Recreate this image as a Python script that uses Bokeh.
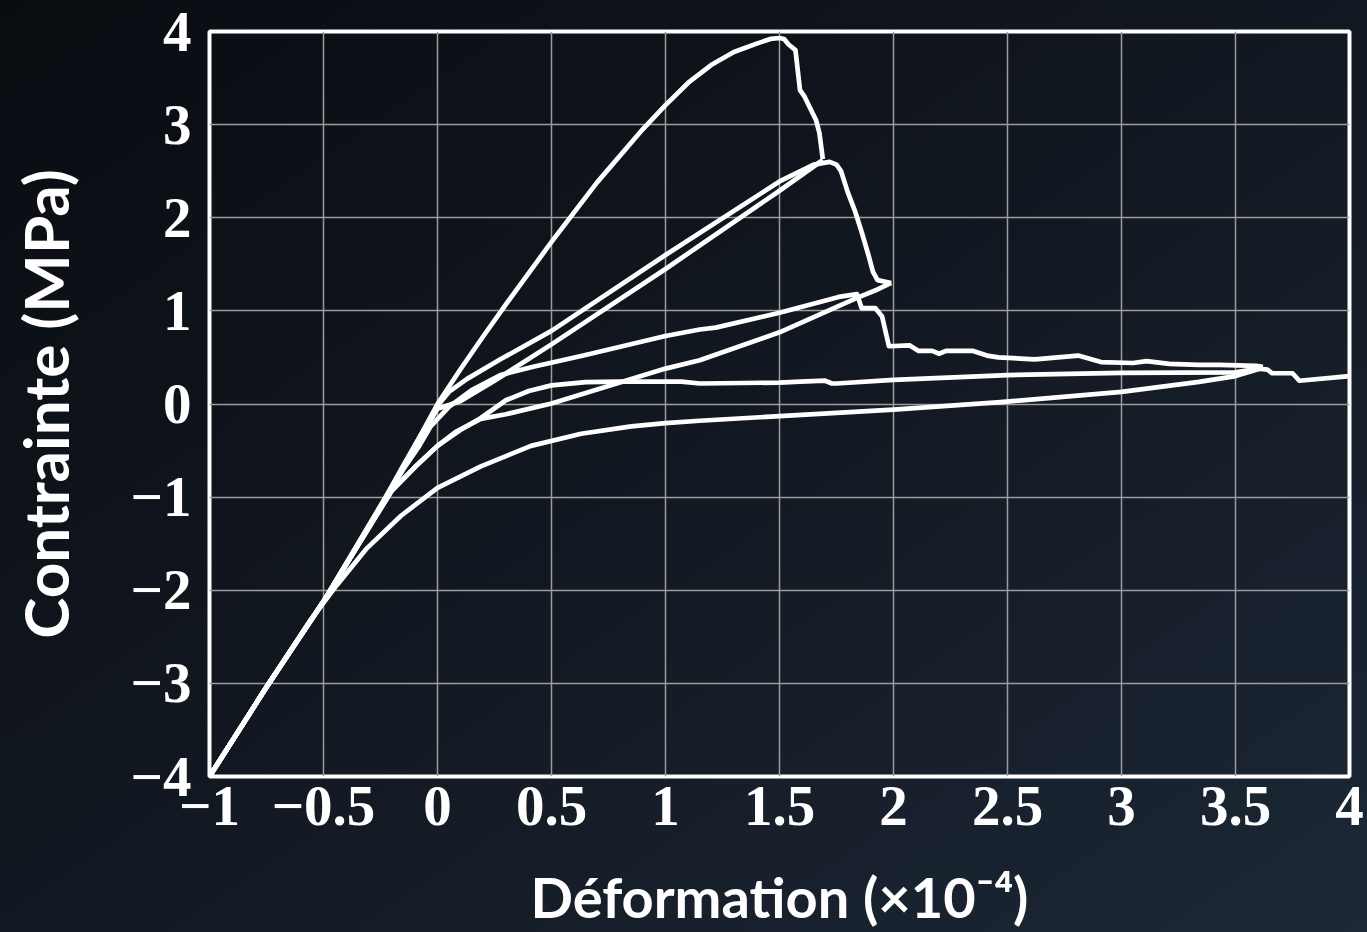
from bokeh.plotting import figure
from bokeh.models import Range1d, FixedTicker
from bokeh.embed import file_html
from bokeh.resources import INLINE

# ---------------- data (strain x1e-4, stress MPa) ----------------
load1_x = [-1.0, -0.75, -0.5, -0.3, -0.15, 0.0, 0.1, 0.2, 0.3, 0.5, 0.7, 0.9, 1.0, 1.1, 1.2, 1.3,
           1.4, 1.46, 1.5, 1.52, 1.54, 1.57, 1.59, 1.61, 1.66, 1.675, 1.69]
load1_y = [-4.0, -3.04, -2.12, -1.32, -0.68, 0.0, 0.37, 0.725, 1.07, 1.74, 2.38, 2.95, 3.21, 3.45, 3.64, 3.78,
           3.87, 3.92, 3.93, 3.92, 3.86, 3.80, 3.37, 3.30, 3.05, 2.91, 2.63]

unload1_x = [1.69, 1.5, 1.0, 0.5, 0.25, 0.1, 0.0, -0.15, -0.5, -0.75, -1.0]
unload1_y = [2.62, 2.29, 1.45, 0.64, 0.25, 0.03, -0.05, -0.68, -2.12, -3.04, -4.0]

reload2_x = [-1.0, -0.75, -0.5, -0.3, -0.15, 0.0, 0.05, 0.13, 0.276, 0.5, 1.0, 1.5, 1.65, 1.72, 1.75,
             1.77, 1.80, 1.83, 1.86, 1.89, 1.91, 1.93, 1.99]
reload2_y = [-4.0, -3.04, -2.12, -1.32, -0.66, -0.02, 0.13, 0.27, 0.48, 0.785, 1.60, 2.39, 2.57, 2.60, 2.57,
             2.50, 2.27, 2.08, 1.85, 1.60, 1.42, 1.33, 1.30]

unload2_x = [1.99, 1.93, 1.84, 1.5, 1.15, 1.0, 0.8, 0.5, 0.3, 0.19, 0.08, 0.0, -0.1, -0.2, -0.35, -0.5, -0.75, -1.0]
unload2_y = [1.30, 1.23, 1.14, 0.77, 0.47, 0.38, 0.23, 0.005, -0.11, -0.16, -0.30, -0.45, -0.68, -0.93, -1.52,
             -2.12, -3.04, -4.0]

reload3_x = [-1.0, -0.75, -0.5, -0.3, -0.15, -0.08, -0.03, 0.05, 0.15, 0.276, 0.42, 0.64, 1.0, 1.15, 1.22,
             1.5, 1.76, 1.84, 1.86, 1.92, 1.95, 1.98, 2.07, 2.11, 2.17, 2.20, 2.23, 2.35, 2.41, 2.46,
             2.62, 2.81, 2.91, 3.05, 3.11, 3.21, 3.34, 3.43, 3.59, 3.62]
reload3_y = [-4.0, -3.04, -2.12, -1.32, -0.70, -0.45, -0.24, -0.03, 0.15, 0.31, 0.40, 0.52, 0.73, 0.80, 0.82,
             0.98, 1.15, 1.18, 1.03, 1.03, 0.94, 0.62, 0.63, 0.57, 0.57, 0.54, 0.57, 0.57, 0.52, 0.50,
             0.48, 0.52, 0.45, 0.44, 0.46, 0.43, 0.42, 0.42, 0.41, 0.40]

unload3_x = [3.62, 3.61, 3.5, 3.34, 3.0, 2.47, 2.0, 1.5, 1.15, 1.0, 0.85, 0.63, 0.41, 0.19, 0.0, -0.16,
             -0.31, -0.44, -0.56, -0.75, -1.0]
unload3_y = [0.40, 0.38, 0.30, 0.237, 0.13, 0.02, -0.06, -0.13, -0.18, -0.205, -0.24, -0.32, -0.45, -0.67, -0.90,
             -1.20, -1.55, -1.94, -2.33, -3.04, -4.0]

reload4_x = [-1.0, -0.75, -0.5, -0.35, -0.2, -0.1, 0.0, 0.1, 0.19, 0.3, 0.4, 0.5, 0.65, 0.8, 1.07, 1.15,
             1.5, 1.59, 1.70, 1.73, 1.75, 2.0, 2.5, 3.0, 3.5, 3.6, 3.64, 3.66, 3.75, 3.78, 4.0]
reload4_y = [-4.0, -3.04, -2.12, -1.52, -0.93, -0.68, -0.45, -0.28, -0.15, 0.04, 0.14, 0.20, 0.235, 0.24, 0.24,
             0.22, 0.23, 0.24, 0.25, 0.22, 0.22, 0.26, 0.31, 0.335, 0.34, 0.38, 0.37, 0.33, 0.33, 0.25, 0.30]

branches = [(load1_x, load1_y), (unload1_x, unload1_y), (reload2_x, reload2_y), (unload2_x, unload2_y),
            (reload3_x, reload3_y), (unload3_x, unload3_y), (reload4_x, reload4_y)]

x_ticks = [-1, -0.5, 0, 0.5, 1, 1.5, 2, 2.5, 3, 3.5, 4]
x_tick_labels = ["−1", "−0.5", "0", "0.5", "1", "1.5", "2", "2.5", "3", "3.5", "4"]
y_ticks = [-4, -3, -2, -1, 0, 1, 2, 3, 4]
y_tick_labels = ["−4", "−3", "−2", "−1", "0", "1", "2", "3", "4"]

x_title = "Déformation (×10⁻⁴)"
y_title = "Contrainte (MPa)"

# ---------------- figure ----------------
W, H = 1367, 932
FL, FR, FT, FB = 209, 1349, 31, 784
p = figure(width=W, height=H, x_range=Range1d(-1, 4), y_range=Range1d(-4, 4),
           output_backend="svg", toolbar_location=None,
           min_border_left=FL, min_border_right=W - FR, min_border_top=FT, min_border_bottom=H - FB)
p.styles = {"background": "linear-gradient(to bottom right, #090c11 0%, #121821 50%, #1c2836 100%)"}
p.border_fill_alpha = 0
p.background_fill_alpha = 0
p.outline_line_color = "white"
p.outline_line_width = 4

for ax in (p.xaxis[0], p.yaxis[0]):
    ax.axis_line_color = None
    ax.major_tick_line_color = None
    ax.minor_tick_line_color = None
    ax.major_label_text_color = "white"
    ax.major_label_text_font = "Liberation Serif"
    ax.major_label_text_font_style = "bold"
    ax.major_label_text_font_size = "57px"
    ax.axis_label_text_color = "white"
    ax.axis_label_text_font = "Lato"
    ax.axis_label_text_font_style = "bold"

p.xaxis.ticker = FixedTicker(ticks=x_ticks)
p.yaxis.ticker = FixedTicker(ticks=y_ticks)
p.xaxis.major_label_overrides = {t: l for t, l in zip(x_ticks, x_tick_labels)}
p.yaxis.major_label_overrides = {t: l for t, l in zip(y_ticks, y_tick_labels)}
p.xaxis.major_label_standoff = 4
p.yaxis.major_label_standoff = 12

p.xaxis.axis_label = x_title
p.xaxis.axis_label_text_font_size = "56px"
p.xaxis.axis_label_standoff = 35
p.yaxis.axis_label = y_title
p.yaxis.axis_label_text_font_size = "62px"
p.yaxis.axis_label_standoff = 46

p.xgrid.ticker = FixedTicker(ticks=x_ticks)
p.ygrid.ticker = FixedTicker(ticks=y_ticks)
for g in (p.xgrid[0], p.ygrid[0]):
    g.grid_line_color = "#9c9c9c"
    g.grid_line_width = 1.5

for bx, by in branches:
    p.line(bx, by, line_color="white", line_width=4.7, line_join="round")

open("out.html", "w").write(file_html(p, INLINE))
